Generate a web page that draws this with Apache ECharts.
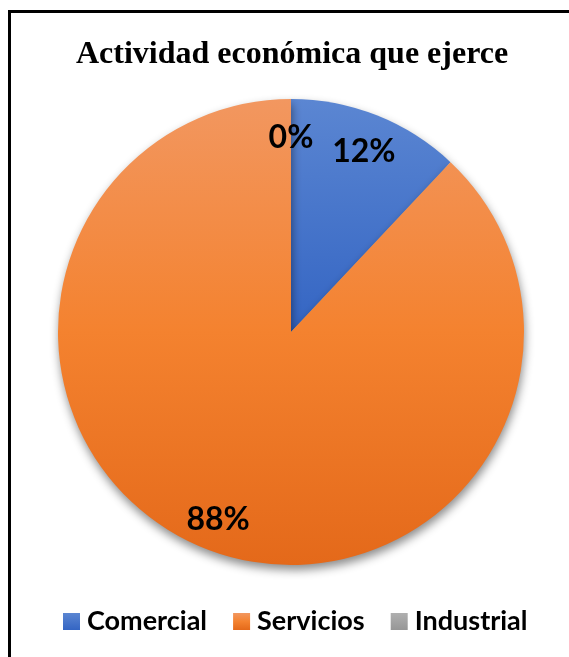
<!DOCTYPE html>
<html>
<head>
<meta charset="utf-8">
<script src="https://cdn.jsdelivr.net/npm/echarts@6/dist/echarts.min.js"></script>
<style>
  html, body { margin: 0; padding: 0; background: #ffffff; }
  #chart { width: 569px; height: 657px; }
</style>
</head>
<body>
<div id="chart"></div>
<script>
// Actividad económica: share of each activity type (percent)
const categories = ['Comercial', 'Servicios', 'Industrial'];
const shares = [12, 88, 0];

const titleText = 'Actividad económica que ejerce';

// Office-style vertical gradients per slice
const sliceColors = [
  { type: 'linear', x: 0, y: 0, x2: 0, y2: 1,
    colorStops: [{ offset: 0, color: '#5b86d2' }, { offset: 1, color: '#3465c3' }] },
  { type: 'linear', x: 0, y: 0, x2: 0, y2: 1,
    colorStops: [{ offset: 0, color: '#f29760' }, { offset: 0.5, color: '#f4822f' }, { offset: 1, color: '#e4691a' }] },
  { type: 'linear', x: 0, y: 0, x2: 0, y2: 1,
    colorStops: [{ offset: 0, color: '#b0b0b0' }, { offset: 1, color: '#969696' }] }
];

const pieData = categories.map((name, i) => ({
  name: name,
  value: shares[i],
  itemStyle: { color: sliceColors[i] }
}));

const center = [291, 332];
const outerR = 233;

const chart = echarts.init(document.getElementById('chart'), null, { renderer: 'canvas' });

chart.setOption({
  backgroundColor: '#ffffff',
  animation: false,
  color: sliceColors,
  title: {
    text: titleText,
    left: 71,
    top: 34,
    textStyle: {
      fontFamily: 'Liberation Serif',
      fontWeight: 'bold',
      fontSize: 32,
      color: '#000000'
    }
  },
  legend: {
    data: categories,
    bottom: 17,
    left: 58,
    icon: 'rect',
    itemWidth: 17,
    itemHeight: 17,
    itemGap: 26,
    textStyle: {
      fontFamily: 'Lato',
      fontWeight: 'bold',
      fontSize: 27,
      color: '#000000',
      padding: [0, 0, 0, 2]
    }
  },
  graphic: [{
    // frame edges along the left and top of the page
    type: 'polyline',
    shape: { points: [[9.5, 800], [9.5, 11.5], [800, 11.5]] },
    style: { fill: 'none', stroke: '#000000', lineWidth: 3 },
    silent: true,
    z: 100
  }],
  series: [
    {
      // filled pie with soft drop shadow
      type: 'pie',
      center: center,
      radius: [0, outerR],
      startAngle: 90,
      clockwise: true,
      label: { show: false },
      labelLine: { show: false },
      itemStyle: {
        shadowBlur: 10,
        shadowOffsetY: 5,
        shadowOffsetX: 1,
        shadowColor: 'rgba(0,0,0,0.45)'
      },
      emphasis: { disabled: true },
      data: pieData
    },
    {
      // transparent ring carrying the value labels
      type: 'pie',
      center: center,
      radius: [157, outerR],
      startAngle: 90,
      clockwise: true,
      silent: true,
      legendHoverLink: false,
      itemStyle: { color: 'rgba(0,0,0,0)', borderWidth: 0 },
      label: {
        show: true,
        position: 'inside',
        formatter: '{v|{c}%}',
        rich: {
          v: {
            fontFamily: 'Lato',
            fontWeight: 'bold',
            fontSize: 32,
            color: '#000000',
            padding: [7, 0, 0, 0]
          }
        }
      },
      labelLine: { show: false },
      emphasis: { disabled: true },
      data: categories.map((name, i) => ({ name: name, value: shares[i] }))
    }
  ]
});
</script>
</body>
</html>
